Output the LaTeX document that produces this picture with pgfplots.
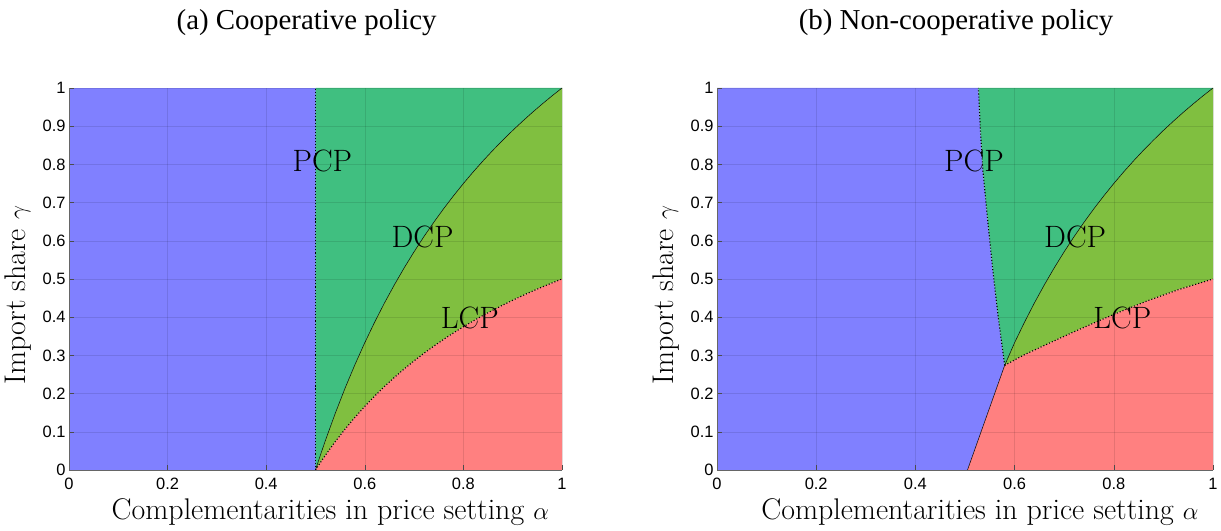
\documentclass[border=0pt]{standalone}
\usepackage{fontspec}
\usepackage{pgfplots}
\pgfplotsset{compat=1.18}
\newfontfamily\tickfont{Liberation Sans}
\newfontfamily\titlefont{Liberation Serif}
\definecolor{cblue}{HTML}{8080FF}
\definecolor{cteal}{HTML}{40BF80}
\definecolor{clgreen}{HTML}{80BF40}
\definecolor{cred}{HTML}{FF8080}
\tikzset{lab/.style={font=\fontsize{31}{37}\selectfont}}
\pgfplotsset{
  myaxis/.style={
    scale only axis, height=382bp,
    xmin=0, xmax=1, ymin=0, ymax=1,
    axis x line*=bottom, axis y line*=left,
    axis line style={black!60, line width=0.6bp},
    xtick={0,0.2,0.4,0.6,0.8,1},
    ytick={0,0.1,0.2,0.3,0.4,0.5,0.6,0.7,0.8,0.9,1},
    tick align=inside, major tick length=5bp,
    tick style={black!70, line width=0.5bp},
    /pgf/number format/assume math mode=true,
    ticklabel style={font=\fontsize{16.5}{19}\tickfont},
    xticklabel style={yshift=-5bp},
    grid=major, grid style={black, opacity=0.1, line width=0.5bp},
    axis on top,
    xlabel={Complementarities in price setting $\alpha$},
    ylabel={Import share $\gamma$},
    label style={font=\fontsize{30}{35}\selectfont},
    x label style={at={(axis description cs:0.53,-0.11)}, anchor=center},
    y label style={at={(axis description cs:-0.103,0.458)}, anchor=center},
    title style={at={(axis description cs:0.482,1.155)}, anchor=center, font=\fontsize{29}{33}\titlefont},
  },
  region/.style={draw=none, fill=#1, forget plot},
  bnd/.style={black, line width=0.5bp, forget plot},
  dotb/.style={black, dotted, line width=1.1bp, forget plot},
}
\begin{document}
\begin{tikzpicture}
\path[use as bounding box] (-69bp,-61bp) rectangle (1152bp,470bp);
% ---------------- (a) Cooperative policy ----------------
\begin{axis}[myaxis, width=493bp, at={(0,0)}, anchor=south west,
  title={(a) Cooperative policy}]
\addplot[region=cblue] coordinates {(0,0) (0.5,0) (0.5,1) (0,1)} -- cycle;
\addplot[region=cteal] coordinates {(0.5,0) (0.5,1) (1,1) (0.98,0.9796) (0.96,0.9583) (0.94,0.9362) (0.92,0.9130) (0.90,0.8889) (0.88,0.8636) (0.86,0.8372) (0.84,0.8095) (0.82,0.7805) (0.80,0.75) (0.78,0.7179) (0.76,0.6842) (0.74,0.6486) (0.72,0.6111) (0.70,0.5714) (0.68,0.5294) (0.66,0.4848) (0.64,0.4375) (0.62,0.3871) (0.60,0.3333) (0.58,0.2759) (0.56,0.2143) (0.54,0.1481) (0.52,0.0769) (0.51,0.0392)} -- cycle;
\addplot[region=clgreen] coordinates {(0.50,0) (0.51,0.0392) (0.52,0.0769) (0.54,0.1481) (0.56,0.2143) (0.58,0.2759) (0.60,0.3333) (0.62,0.3871) (0.64,0.4375) (0.66,0.4848) (0.68,0.5294) (0.70,0.5714) (0.72,0.6111) (0.74,0.6486) (0.76,0.6842) (0.78,0.7179) (0.80,0.75) (0.82,0.7805) (0.84,0.8095) (0.86,0.8372) (0.88,0.8636) (0.90,0.8889) (0.92,0.9130) (0.94,0.9362) (0.96,0.9583) (0.98,0.9796) (1,1) (1,0.5) (0.98,0.4898) (0.96,0.4792) (0.94,0.4681) (0.92,0.4565) (0.90,0.4444) (0.88,0.4318) (0.86,0.4186) (0.84,0.4048) (0.82,0.3902) (0.80,0.375) (0.78,0.3590) (0.76,0.3421) (0.74,0.3243) (0.72,0.3056) (0.70,0.2857) (0.68,0.2647) (0.66,0.2424) (0.64,0.2188) (0.62,0.1935) (0.60,0.1667) (0.58,0.1379) (0.56,0.1071) (0.54,0.0741) (0.52,0.0385) (0.51,0.0196)} -- cycle;
\addplot[region=cred] coordinates {(0.50,0) (0.51,0.0196) (0.52,0.0385) (0.54,0.0741) (0.56,0.1071) (0.58,0.1379) (0.60,0.1667) (0.62,0.1935) (0.64,0.2188) (0.66,0.2424) (0.68,0.2647) (0.70,0.2857) (0.72,0.3056) (0.74,0.3243) (0.76,0.3421) (0.78,0.3590) (0.80,0.375) (0.82,0.3902) (0.84,0.4048) (0.86,0.4186) (0.88,0.4318) (0.90,0.4444) (0.92,0.4565) (0.94,0.4681) (0.96,0.4792) (0.98,0.4898) (1,0.5) (1,0)} -- cycle;
\addplot[bnd] coordinates {(0.50,0) (0.51,0.0392) (0.52,0.0769) (0.54,0.1481) (0.56,0.2143) (0.58,0.2759) (0.60,0.3333) (0.62,0.3871) (0.64,0.4375) (0.66,0.4848) (0.68,0.5294) (0.70,0.5714) (0.72,0.6111) (0.74,0.6486) (0.76,0.6842) (0.78,0.7179) (0.80,0.75) (0.82,0.7805) (0.84,0.8095) (0.86,0.8372) (0.88,0.8636) (0.90,0.8889) (0.92,0.9130) (0.94,0.9362) (0.96,0.9583) (0.98,0.9796) (1,1)};
\addplot[dotb] coordinates {(0.5,0) (0.5,1)};
\addplot[dotb] coordinates {(0.50,0) (0.51,0.0196) (0.52,0.0385) (0.54,0.0741) (0.56,0.1071) (0.58,0.1379) (0.60,0.1667) (0.62,0.1935) (0.64,0.2188) (0.66,0.2424) (0.68,0.2647) (0.70,0.2857) (0.72,0.3056) (0.74,0.3243) (0.76,0.3421) (0.78,0.3590) (0.80,0.375) (0.82,0.3902) (0.84,0.4048) (0.86,0.4186) (0.88,0.4318) (0.90,0.4444) (0.92,0.4565) (0.94,0.4681) (0.96,0.4792) (0.98,0.4898) (1,0.5)};
\node[lab] at (axis cs:0.514,0.809) {PCP};
\node[lab] at (axis cs:0.717,0.609) {DCP};
\node[lab] at (axis cs:0.813,0.398) {LCP};
\end{axis}
% ---------------- (b) Non-cooperative policy ----------------
\begin{axis}[myaxis, width=496bp, at={(648bp,0)}, anchor=south west,
  title={(b) Non-cooperative policy}]
\addplot[region=cblue] coordinates {(0,0) (0.505,0) (0.58,0.274) (0.567,0.40) (0.556,0.524) (0.546,0.65) (0.536,0.785) (0.531,0.89) (0.527,1) (0,1)} -- cycle;
\addplot[region=cteal] coordinates {(0.58,0.274) (0.567,0.40) (0.556,0.524) (0.546,0.65) (0.536,0.785) (0.531,0.89) (0.527,1) (1,1) (0.98,0.9796) (0.96,0.9583) (0.94,0.9362) (0.92,0.9130) (0.90,0.8889) (0.88,0.8636) (0.86,0.8372) (0.84,0.8095) (0.82,0.7805) (0.80,0.75) (0.78,0.7179) (0.76,0.6842) (0.74,0.6486) (0.72,0.6111) (0.70,0.5714) (0.68,0.5294) (0.66,0.4848) (0.64,0.4375) (0.62,0.3871) (0.60,0.3333)} -- cycle;
\addplot[region=clgreen] coordinates {(0.58,0.274) (0.60,0.3333) (0.62,0.3871) (0.64,0.4375) (0.66,0.4848) (0.68,0.5294) (0.70,0.5714) (0.72,0.6111) (0.74,0.6486) (0.76,0.6842) (0.78,0.7179) (0.80,0.75) (0.82,0.7805) (0.84,0.8095) (0.86,0.8372) (0.88,0.8636) (0.90,0.8889) (0.92,0.9130) (0.94,0.9362) (0.96,0.9583) (0.98,0.9796) (1,1) (1,0.5) (0.93,0.472) (0.868,0.443) (0.82,0.418) (0.774,0.393) (0.72,0.362) (0.673,0.334) (0.62,0.302)} -- cycle;
\addplot[region=cred] coordinates {(0.505,0) (0.58,0.274) (0.62,0.302) (0.673,0.334) (0.72,0.362) (0.774,0.393) (0.82,0.418) (0.868,0.443) (0.93,0.472) (1,0.5) (1,0)} -- cycle;
\addplot[bnd] coordinates {(0.505,0) (0.58,0.274)};
\addplot[bnd] coordinates {(0.58,0.274) (0.60,0.3333) (0.62,0.3871) (0.64,0.4375) (0.66,0.4848) (0.68,0.5294) (0.70,0.5714) (0.72,0.6111) (0.74,0.6486) (0.76,0.6842) (0.78,0.7179) (0.80,0.75) (0.82,0.7805) (0.84,0.8095) (0.86,0.8372) (0.88,0.8636) (0.90,0.8889) (0.92,0.9130) (0.94,0.9362) (0.96,0.9583) (0.98,0.9796) (1,1)};
\addplot[dotb] coordinates {(0.58,0.274) (0.567,0.40) (0.556,0.524) (0.546,0.65) (0.536,0.785) (0.531,0.89) (0.527,1)};
\addplot[dotb] coordinates {(0.58,0.274) (0.62,0.302) (0.673,0.334) (0.72,0.362) (0.774,0.393) (0.82,0.418) (0.868,0.443) (0.93,0.472) (1,0.5)};
\node[lab] at (axis cs:0.518,0.809) {PCP};
\node[lab] at (axis cs:0.722,0.609) {DCP};
\node[lab] at (axis cs:0.817,0.398) {LCP};
\end{axis}
\end{tikzpicture}
\end{document}
